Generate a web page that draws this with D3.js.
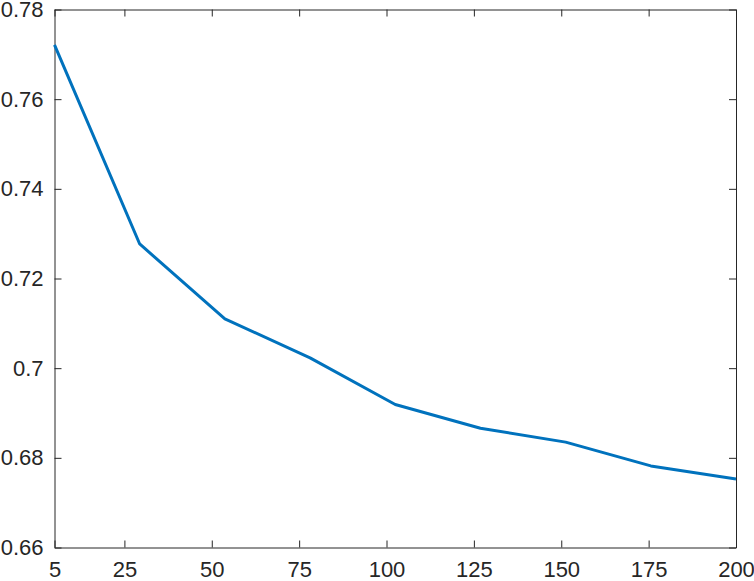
<!DOCTYPE html>
<html>
<head>
	<meta charset="UTF-8">
	<title>Line plot</title>
	<script src="https://d3js.org/d3.v7.min.js"></script>
	<style>
		body { margin: 0; background: #fff; }
		.tick text { font-family: "Liberation Sans", Arial, sans-serif; font-size: 22px; fill: #262626; }
		.domain, .tick line { stroke: #262626; }
	</style>
</head>
<body>
	<script>
		// data (x points are evenly spaced between 5 and 200)
		var xValues = [5, 29.375, 53.75, 78.125, 102.5, 126.875, 151.25, 175.625, 200];
		var yValues = [0.7721, 0.7277, 0.7110, 0.7023, 0.6919, 0.6866, 0.6835, 0.6782, 0.6753];
		var xTicks = [5, 25, 50, 75, 100, 125, 150, 175, 200];
		var yTicks = [0.66, 0.68, 0.7, 0.72, 0.74, 0.76, 0.78];

		var width = 754, height = 581;
		var margin = {top: 9.5, right: 18, bottom: 33.5, left: 54.5};

		var svg = d3.select("body").append("svg")
			.attr("width", width)
			.attr("height", height);

		var x = d3.scaleLinear().domain([5, 200]).range([margin.left, width - margin.right]);
		var y = d3.scaleLinear().domain([0.66, 0.78]).range([height - margin.bottom, margin.top]);

		var fmt = function(d) { return d3.format("")(+d.toFixed(2)); };

		// bottom axis, ticks pointing in
		svg.append("g")
			.attr("transform", "translate(0," + y(0.66) + ")")
			.call(d3.axisBottom(x).tickValues(xTicks).tickSizeInner(-7).tickSizeOuter(0).tickPadding(14))
			.call(function(g) { g.selectAll("text").attr("dy", "0.71em"); });

		// left axis
		svg.append("g")
			.attr("transform", "translate(" + x(5) + ",0)")
			.call(d3.axisLeft(y).tickValues(yTicks).tickFormat(fmt).tickSizeInner(-7).tickSizeOuter(0).tickPadding(11));

		// top and right (box)
		svg.append("g")
			.attr("transform", "translate(0," + y(0.78) + ")")
			.call(d3.axisTop(x).tickValues(xTicks).tickSizeInner(-7).tickSizeOuter(0).tickFormat(""));
		svg.append("g")
			.attr("transform", "translate(" + x(200) + ",0)")
			.call(d3.axisRight(y).tickValues(yTicks).tickSizeInner(-7).tickSizeOuter(0).tickFormat(""));

		svg.selectAll(".domain, .tick line").attr("stroke-width", 1);

		var line = d3.line()
			.x(function(d, i) { return x(xValues[i]); })
			.y(function(d) { return y(d); });

		svg.append("path")
			.datum(yValues)
			.attr("fill", "none")
			.attr("stroke", "#0072BD")
			.attr("stroke-width", 3)
			.attr("stroke-linejoin", "round")
			.attr("d", line);
	</script>
</body>
</html>
